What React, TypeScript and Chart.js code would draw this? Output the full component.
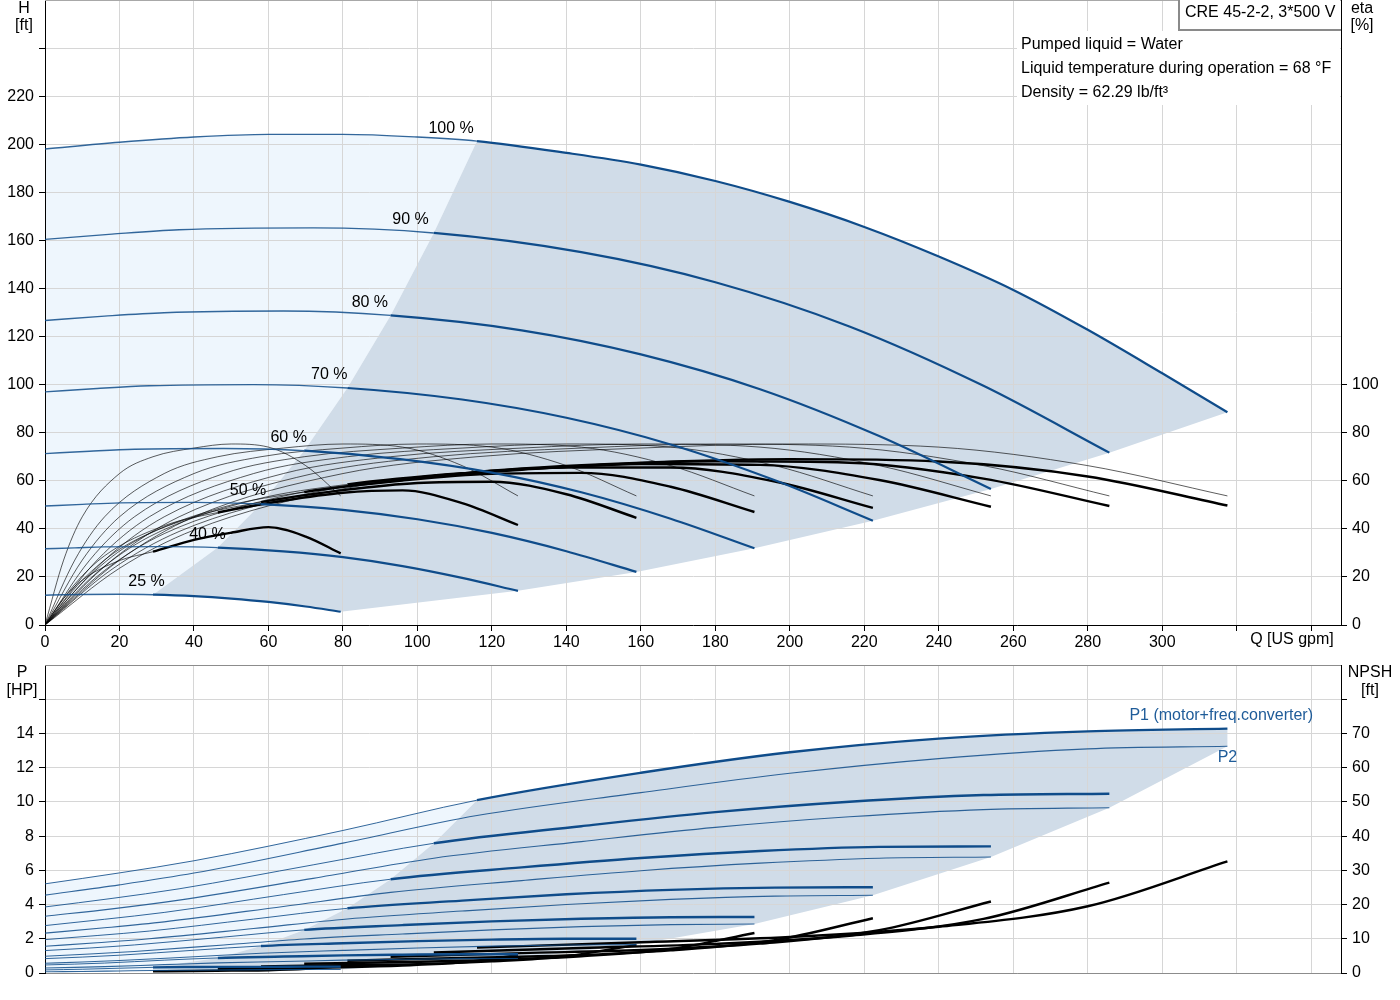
import { useEffect, useRef } from 'react';
import { Chart, ChartConfiguration, registerables } from 'chart.js';

Chart.register(...registerables);

const FONT_FAMILY = '"Liberation Sans", Arial, Helvetica, sans-serif';
Chart.defaults.font.family = FONT_FAMILY;
Chart.defaults.font.size = 16;
Chart.defaults.color = '#000';

// speed steps, top to bottom
const speedLabels = ['100 %', '90 %', '80 %', '70 %', '60 %', '50 %', '40 %', '25 %'];

// flow points [US gpm] along each speed; index 4 is where the curve enters the dark area
const flow100 = [0, 20, 40, 80, 116, 160, 200, 240, 280, 317.5];
const flow90 = [0, 18, 36, 72, 104.4, 144, 180, 216, 252, 285.8];
const flow80 = [0, 16, 32, 64, 92.8, 128, 160, 192, 224, 254];
const flow70 = [0, 14, 28, 56, 81.2, 112, 140, 168, 196, 222.3];
const flow60 = [0, 12, 24, 48, 69.6, 96, 120, 144, 168, 190.5];
const flow50 = [0, 10, 20, 40, 58, 80, 100, 120, 140, 158.8];
const flow40 = [0, 8, 16, 32, 46.4, 64, 80, 96, 112, 127];
const flow25 = [0, 5, 10, 20, 29, 40, 50, 60, 70, 79.4];
const flows = [flow100, flow90, flow80, flow70, flow60, flow50, flow40, flow25];
const SPLIT = 4;

// head H [ft]; the 100 % curve is read more densely
const flowHead100 = [0, 20, 40, 60, 80, 100, 116, 140, 160, 180, 200, 220, 240, 260, 280, 300, 317.5];
const head100 = [198, 200.8, 203, 204.1, 204.1, 203, 201.3, 196.4, 191.5, 184.7, 176, 165.6, 153.3, 139.4, 122.8, 104.7, 88.5];
const head90 = [160.4, 162.6, 164.4, 165.2, 163.1, 155.1, 142.6, 124.2, 99.5, 71.7];
const head80 = [126.7, 128.5, 129.9, 130.6, 128.8, 122.6, 112.6, 98.1, 78.6, 56.6];
const head70 = [97.0, 98.4, 99.5, 100.0, 98.6, 93.8, 86.2, 75.1, 60.2, 43.4];
const head60 = [71.3, 72.3, 73.1, 73.4, 72.5, 68.9, 63.4, 55.2, 44.2, 31.9];
const head50 = [49.5, 50.2, 50.8, 51.0, 50.3, 47.9, 44.0, 38.3, 30.7, 22.1];
const head40 = [31.7, 32.1, 32.5, 32.6, 32.2, 30.6, 28.2, 24.5, 19.6, 14.2];
const head25 = [12.4, 12.6, 12.7, 12.8, 12.6, 12.0, 11.0, 9.6, 7.7, 5.5];
const heads = [head100, head90, head80, head70, head60, head50, head40, head25];
const headFlows = [flowHead100, flow90, flow80, flow70, flow60, flow50, flow40, flow25];

// pump efficiency [%] (same reading at every speed on its own flow points)
const etaPump = [0, 27, 45, 63, 70, 73.6, 75.3, 74, 66.3, 53.7];

// total efficiency [%] per speed
const etaTotal = [
  [0, 23.6, 39.5, 56.6, 63.7, 67.5, 69.0, 68.0, 61.8, 49.7],
  [0, 23.2, 38.9, 55.1, 62.0, 66.1, 68.1, 67.5, 60.9, 49.5],
  [0, 22.7, 38.0, 53.6, 60.2, 64.6, 67.0, 66.6, 60.3, 49.2],
  [0, 21.9, 36.7, 52.0, 58.5, 63.1, 65.5, 65.5, 59.7, 48.7],
  [0, 20.5, 34.7, 49.1, 55.3, 60.1, 62.9, 63.3, 57.5, 47.0],
  [0, 18.6, 31.5, 45.0, 51.1, 56.1, 59.1, 59.6, 54.4, 44.6],
  [0, 17.0, 28.8, 41.3, 46.8, 51.7, 55.0, 56.0, 50.7, 41.6],
  [0, 11.1, 18.7, 26.8, 30.5, 35.4, 38.4, 40.7, 36.8, 29.8],
];

// P1 (motor + freq. converter) [HP]
const powerP1 = [
  [5.21, 5.85, 6.56, 8.33, 10.1, 11.7, 12.9, 13.7, 14.12, 14.28],
  [3.86, 4.36, 4.92, 6.32, 7.58, 8.58, 9.40, 10.01, 10.40, 10.48],
  [2.77, 3.14, 3.54, 4.58, 5.48, 6.17, 6.72, 7.13, 7.37, 7.40],
  [1.95, 2.19, 2.45, 3.15, 3.78, 4.23, 4.60, 4.86, 4.99, 5.01],
  [1.31, 1.46, 1.64, 2.10, 2.52, 2.80, 3.02, 3.17, 3.26, 3.27],
  [0.84, 0.93, 1.04, 1.33, 1.58, 1.74, 1.86, 1.95, 2.0, 2.0],
  [0.47, 0.52, 0.58, 0.75, 0.88, 0.96, 1.03, 1.07, 1.10, 1.10],
  [0.18, 0.20, 0.22, 0.28, 0.33, 0.35, 0.36, 0.36, 0.37, 0.37],
];

// P2 (shaft) [HP]
const powerP2 = [
  [4.55, 5.15, 5.84, 7.59, 9.2, 10.54, 11.67, 12.53, 13.1, 13.25],
  [3.32, 3.75, 4.26, 5.53, 6.71, 7.68, 8.51, 9.13, 9.55, 9.66],
  [2.33, 2.64, 2.99, 3.89, 4.71, 5.40, 5.98, 6.42, 6.71, 6.78],
  [1.56, 1.77, 2.00, 2.60, 3.16, 3.62, 4.00, 4.30, 4.49, 4.54],
  [0.98, 1.11, 1.26, 1.64, 1.99, 2.28, 2.52, 2.71, 2.83, 2.86],
  [0.57, 0.64, 0.73, 0.95, 1.15, 1.32, 1.46, 1.57, 1.64, 1.66],
  [0.29, 0.33, 0.37, 0.49, 0.59, 0.67, 0.75, 0.80, 0.84, 0.85],
  [0.071, 0.080, 0.091, 0.119, 0.144, 0.165, 0.182, 0.196, 0.205, 0.207],
];

// NPSH [ft], from the split point to the end of each speed
const npsh = [
  [7.4, 9.0, 10.5, 13.5, 19.5, 32.6],
  [6.0, 7.3, 8.5, 10.9, 15.8, 26.4],
  [4.7, 5.8, 6.7, 8.6, 12.5, 20.9],
  [3.6, 4.4, 5.1, 6.6, 9.6, 16.0],
  [2.7, 3.2, 3.8, 4.9, 7.0, 11.7],
  [1.9, 2.3, 2.6, 3.4, 4.9, 8.2],
  [1.2, 1.4, 1.7, 2.2, 3.1, 5.2],
  [0.5, 0.6, 0.7, 0.8, 1.2, 2.0],
];

const BLUE = '#0f4c8a';
const BLUE_THIN = 'rgba(15,76,138,0.85)';
const LIGHT_FILL = '#eef6fd';
const DARK_FILL = '#d0dce8';
const GRID = '#d6d6d6';

type Pt = { x: number; y: number };
const pts = (q: number[], v: number[]): Pt[] => q.map((x, j) => ({ x, y: v[j] }));

function curve(data: Pt[], split: number, thin: number, thick: number, color: string, thinColor: string, axis = 'y') {
  return {
    type: 'line' as const,
    data,
    yAxisID: axis,
    borderColor: color,
    borderWidth: thick,
    pointRadius: 0,
    cubicInterpolationMode: 'monotone' as const,
    fill: false,
    segment: {
      borderWidth: (c: any) => (c.p0DataIndex < split ? thin : thick),
      borderColor: (c: any) => (c.p0DataIndex < split ? thinColor : color),
    },
  };
}

function area(data: Pt[], color: string, axis = 'y') {
  return { type: 'line' as const, data, yAxisID: axis, borderWidth: 0, pointRadius: 0, tension: 0, fill: 'shape', backgroundColor: color };
}

const fixWidth = (w: number) => (s: any) => { s.width = w; s.paddingTop = 0; s.paddingBottom = 0; };
const fixHeight = (h: number) => (s: any) => { s.height = h; s.paddingLeft = 0; s.paddingRight = 0; };
const keepTicks = (max: number) => (s: any) => { s.ticks = s.ticks.filter((t: any) => t.value <= max); };
const upTo = (max: number) => (v: any) => (+v <= max ? String(v) : '');

function topConfig(): ChartConfiguration {
  const last = flow25.length - 1;
  const qh = heads.map((h, i) => ({ q: headFlows[i], h, split: headFlows[i].indexOf(flows[i][SPLIT]) }));

  const light: Pt[] = [
    ...pts(flowHead100.slice(0, qh[0].split + 1), head100),
    ...flows.slice(1).map((q, k) => ({ x: q[SPLIT], y: heads[k + 1][SPLIT] })),
    ...pts(flow25, head25).slice(0, SPLIT).reverse(),
  ];
  const dark: Pt[] = [
    ...pts(flowHead100, head100).slice(qh[0].split),
    ...flows.slice(1).map((q, k) => ({ x: q[last], y: heads[k + 1][last] })),
    ...pts(flow25, head25).slice(SPLIT, last).reverse(),
    ...flows.slice(1, 7).reverse().map((q, k) => ({ x: q[SPLIT], y: heads[6 - k][SPLIT] })),
  ];

  const datasets: any[] = [
    ...qh.map((c) => curve(pts(c.q, c.h), c.split, 1.4, 2.2, BLUE, BLUE_THIN)),
    ...etaTotal.map((e, i) => curve(pts(flows[i], e), SPLIT, 0.8, 2.4, '#000', 'rgba(0,0,0,0.8)', 'y1')),
    ...flows.map((q) => curve(pts(q, etaPump), 0, 0.8, 0.8, 'rgba(0,0,0,0.8)', 'rgba(0,0,0,0.8)', 'y1')),
    area(dark, DARK_FILL),
    area(light, LIGHT_FILL),
  ];

  const labels = {
    id: 'topLabels',
    afterDraw(chart: Chart) {
      const ctx = chart.ctx;
      const a = chart.chartArea;
      const xs = chart.scales.x;
      const ys = chart.scales.y;
      ctx.save();
      ctx.strokeStyle = '#a8a8a8';
      ctx.lineWidth = 1;
      ctx.beginPath();
      ctx.moveTo(a.left, a.top + 0.5);
      ctx.lineTo(a.right, a.top + 0.5);
      ctx.stroke();

      // liquid info block and model box
      ctx.fillStyle = '#fff';
      ctx.fillRect(a.right - 324, 31, 323, 74);
      ctx.fillRect(a.right - 163, 0, 162, 30);
      ctx.strokeStyle = '#8a8a8a';
      ctx.lineWidth = 2;
      ctx.beginPath();
      ctx.moveTo(a.right - 162, 0);
      ctx.lineTo(a.right - 162, 30);
      ctx.lineTo(a.right, 30);
      ctx.stroke();

      ctx.font = `16px ${FONT_FAMILY}`;
      ctx.fillStyle = '#000';
      ctx.textBaseline = 'middle';
      ctx.textAlign = 'left';
      ctx.fillText('CRE 45-2-2, 3*500 V', a.right - 156, 13);
      ctx.fillText('Pumped liquid = Water', a.right - 320, 45);
      ctx.fillText('Liquid temperature during operation = 68 °F', a.right - 320, 69);
      ctx.fillText('Density = 62.29 lb/ft³', a.right - 320, 93);

      ctx.textAlign = 'center';
      ctx.fillText('H', 24, 9);
      ctx.fillText('[ft]', 24, 26);
      ctx.fillText('eta', a.right + 21, 9);
      ctx.fillText('[%]', a.right + 21, 26);
      ctx.fillText('Q [US gpm]', a.right - 49, a.bottom + 15);

      qh.forEach((c, i) => {
        const x = xs.getPixelForValue(c.q[c.split] * 0.94);
        const y = ys.getPixelForValue(c.h[c.split]) - 13;
        ctx.fillText(speedLabels[i], x, y);
      });
      ctx.restore();
    },
  };

  return {
    type: 'line',
    data: { datasets },
    options: {
      responsive: false,
      animation: false,
      events: [],
      layout: { padding: 0 },
      plugins: {
        legend: { display: false },
        tooltip: { enabled: false },
        filler: { drawTime: 'beforeDraw' } as any,
      },
      scales: {
        x: {
          type: 'linear', min: 0, max: 348,
          afterFit: fixHeight(30),
          ticks: { stepSize: 20, includeBounds: false, autoSkip: false, maxRotation: 0, padding: 2, callback: upTo(300) },
          grid: { color: GRID, tickColor: '#000', tickLength: 6 },
          border: { color: '#000' },
        },
        y: {
          type: 'linear', position: 'left', min: 0, max: 260,
          afterFit: fixWidth(45),
          afterBuildTicks: keepTicks(240),
          ticks: { stepSize: 20, includeBounds: false, padding: 5, callback: upTo(220) },
          grid: { color: GRID, tickColor: '#000', tickLength: 6 },
          border: { color: '#000' },
        },
        y1: {
          type: 'linear', position: 'right', min: 0, max: 260,
          afterFit: fixWidth(59),
          afterBuildTicks: keepTicks(100),
          ticks: { stepSize: 20, includeBounds: false, padding: 5 },
          grid: { drawOnChartArea: false, tickColor: '#000', tickLength: 6 },
          border: { color: '#000' },
        },
      } as any,
    },
    plugins: [labels],
  };
}

function bottomConfig(): ChartConfiguration {
  const last = flow25.length - 1;
  const p1_25 = powerP1[7];
  const p2_25 = powerP2[7];

  const light: Pt[] = [
    ...pts(flow100, powerP1[0]).slice(0, SPLIT + 1),
    ...flows.slice(1).map((q, k) => ({ x: q[SPLIT], y: powerP1[k + 1][SPLIT] })),
    ...pts(flow25, p2_25).slice(0, SPLIT + 1).reverse(),
  ];
  const dark: Pt[] = [
    ...pts(flow100, powerP1[0]).slice(SPLIT),
    ...flows.map((q, i) => ({ x: q[last], y: powerP2[i][last] })),
    ...pts(flow25, p2_25).slice(SPLIT, last).reverse(),
    { x: flow25[SPLIT], y: p1_25[SPLIT] },
    ...flows.slice(1, 7).reverse().map((q, k) => ({ x: q[SPLIT], y: powerP1[6 - k][SPLIT] })),
  ];

  const datasets: any[] = [
    ...powerP1.map((p, i) => curve(pts(flows[i], p), SPLIT, 1, 2.4, BLUE, BLUE_THIN)),
    ...powerP2.map((p, i) => curve(pts(flows[i], p), 0, 1.1, 1.1, BLUE_THIN, BLUE_THIN)),
    ...npsh.map((n, i) => curve(pts(flows[i].slice(SPLIT), n), 0, 2.4, 2.4, '#000', '#000', 'y1')),
    area(dark, DARK_FILL),
    area(light, LIGHT_FILL),
  ];

  const labels = {
    id: 'bottomLabels',
    afterDraw(chart: Chart) {
      const ctx = chart.ctx;
      const a = chart.chartArea;
      const xs = chart.scales.x;
      const ys = chart.scales.y;
      ctx.save();
      ctx.strokeStyle = '#8c8c8c';
      ctx.lineWidth = 1;
      ctx.beginPath();
      ctx.moveTo(a.left, a.top + 0.5);
      ctx.lineTo(a.right, a.top + 0.5);
      ctx.stroke();

      ctx.font = `16px ${FONT_FAMILY}`;
      ctx.fillStyle = '#000';
      ctx.textBaseline = 'middle';
      ctx.textAlign = 'center';
      ctx.fillText('P', 22, a.top + 8);
      ctx.fillText('[HP]', 22, a.top + 26);
      ctx.fillText('NPSH', a.right + 29, a.top + 8);
      ctx.fillText('[ft]', a.right + 29, a.top + 26);

      ctx.fillStyle = '#1f5c99';
      ctx.textAlign = 'right';
      ctx.fillText('P1 (motor+freq.converter)', a.right - 28, ys.getPixelForValue(powerP1[0][last]) - 13);
      ctx.textAlign = 'center';
      ctx.fillText('P2', xs.getPixelForValue(flow100[last]), ys.getPixelForValue(powerP2[0][last]) + 11);
      ctx.restore();
    },
  };

  return {
    type: 'line',
    data: { datasets },
    options: {
      responsive: false,
      animation: false,
      events: [],
      layout: { padding: { top: 10 } },
      plugins: {
        legend: { display: false },
        tooltip: { enabled: false },
        filler: { drawTime: 'beforeDraw' } as any,
      },
      scales: {
        x: {
          type: 'linear', min: 0, max: 348,
          afterFit: fixHeight(27),
          ticks: { display: false, stepSize: 20, includeBounds: false },
          grid: { color: GRID, drawTicks: false },
          border: { color: '#8c8c8c' },
        },
        y: {
          type: 'linear', position: 'left', min: 0, max: 18,
          afterFit: fixWidth(45),
          afterBuildTicks: keepTicks(16),
          ticks: { stepSize: 2, includeBounds: false, padding: 5, callback: upTo(14) },
          grid: { color: GRID, tickColor: '#000', tickLength: 6 },
          border: { color: '#000' },
        },
        y1: {
          type: 'linear', position: 'right', min: 0, max: 90,
          afterFit: fixWidth(59),
          afterBuildTicks: keepTicks(80),
          ticks: { stepSize: 10, includeBounds: false, padding: 5, callback: upTo(70) },
          grid: { drawOnChartArea: false, tickColor: '#000', tickLength: 6 },
          border: { color: '#000' },
        },
      } as any,
    },
    plugins: [labels],
  };
}

export default function App() {
  const topRef = useRef<HTMLCanvasElement>(null);
  const bottomRef = useRef<HTMLCanvasElement>(null);

  useEffect(() => {
    if (!topRef.current || !bottomRef.current) return;
    const top = new Chart(topRef.current, topConfig());
    const bottom = new Chart(bottomRef.current, bottomConfig());
    return () => {
      top.destroy();
      bottom.destroy();
    };
  }, []);

  return (
    <div style={{ position: 'fixed', left: 0, top: 0, width: 1400, height: 1000, background: '#fff' }}>
      <canvas ref={topRef} width={1400} height={655} style={{ position: 'absolute', left: 0, top: 0 }} />
      <canvas ref={bottomRef} width={1400} height={345} style={{ position: 'absolute', left: 0, top: 655 }} />
    </div>
  );
}
